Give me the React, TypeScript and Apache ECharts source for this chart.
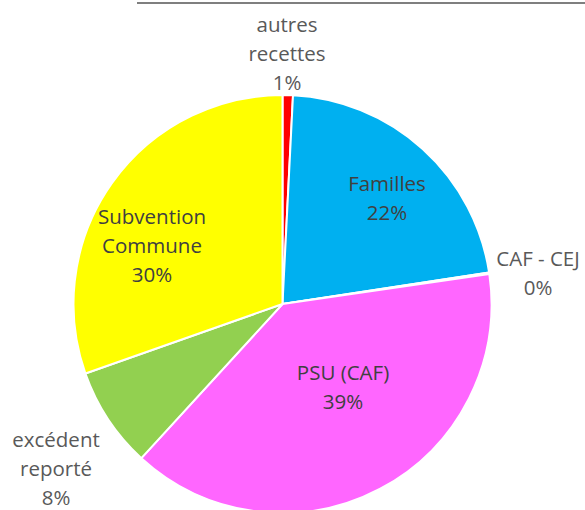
import React, { useEffect, useRef } from "react";
import * as echarts from "echarts";

const categories = ["autres recettes", "Familles", "CAF - CEJ", "PSU (CAF)", "excédent reporté", "Subvention Commune"];
const values = [0.8, 21.8, 0.1, 39.1, 7.8, 30.4];
const colors = ["#FF0000", "#00B0F0", "#0070C0", "#FF66FF", "#92D050", "#FFFF00"];
const labelLines = [["autres", "recettes"], ["Familles"], ["CAF - CEJ"], ["PSU (CAF)"], ["excédent", "reporté"], ["Subvention", "Commune"]];
const labelPos = [[287, 53], [387, 197], [538, 272], [343, 386], [56, 468], [152, 245]];
const insideLabel = [false, true, false, true, false, true];

export default function App() {
  const ref = useRef<HTMLDivElement>(null);
  useEffect(() => {
    const chart = echarts.init(ref.current!, undefined, { renderer: "svg" });
    chart.setOption({
      animation: false,
      backgroundColor: "#ffffff",
      graphic: [
        { type: "line", shape: { x1: 137, y1: 3, x2: 585, y2: 3 }, style: { stroke: "#7f7f7f", lineWidth: 2 } },
      ],
      series: [
        {
          type: "pie",
          center: [282.5, 304],
          radius: 209,
          startAngle: 90,
          clockwise: true,
          avoidLabelOverlap: false,
          itemStyle: { borderColor: "#ffffff", borderWidth: 2 },
          label: {
            show: true,
            position: "inside",
            fontFamily: "Open Sans",
            fontSize: 20.5,
            lineHeight: 29,
            align: "center",
            formatter: (p: any) => [...labelLines[p.dataIndex], Math.round(p.percent) + "%"].join("\n"),
          },
          labelLine: { show: false },
          labelLayout: (p: any) => ({
            x: labelPos[p.dataIndex][0],
            y: labelPos[p.dataIndex][1],
            align: "center",
            verticalAlign: "middle",
          }),
          data: categories.map((c, i) => ({
            name: c,
            value: values[i],
            itemStyle: { color: colors[i] },
            label: { color: insideLabel[i] ? "#404040" : "#595959" },
          })),
        },
      ],
    });
    return () => chart.dispose();
  }, []);
  return <div ref={ref} style={{ position: "fixed", left: 0, top: 0, width: 585, height: 510 }} />;
}
